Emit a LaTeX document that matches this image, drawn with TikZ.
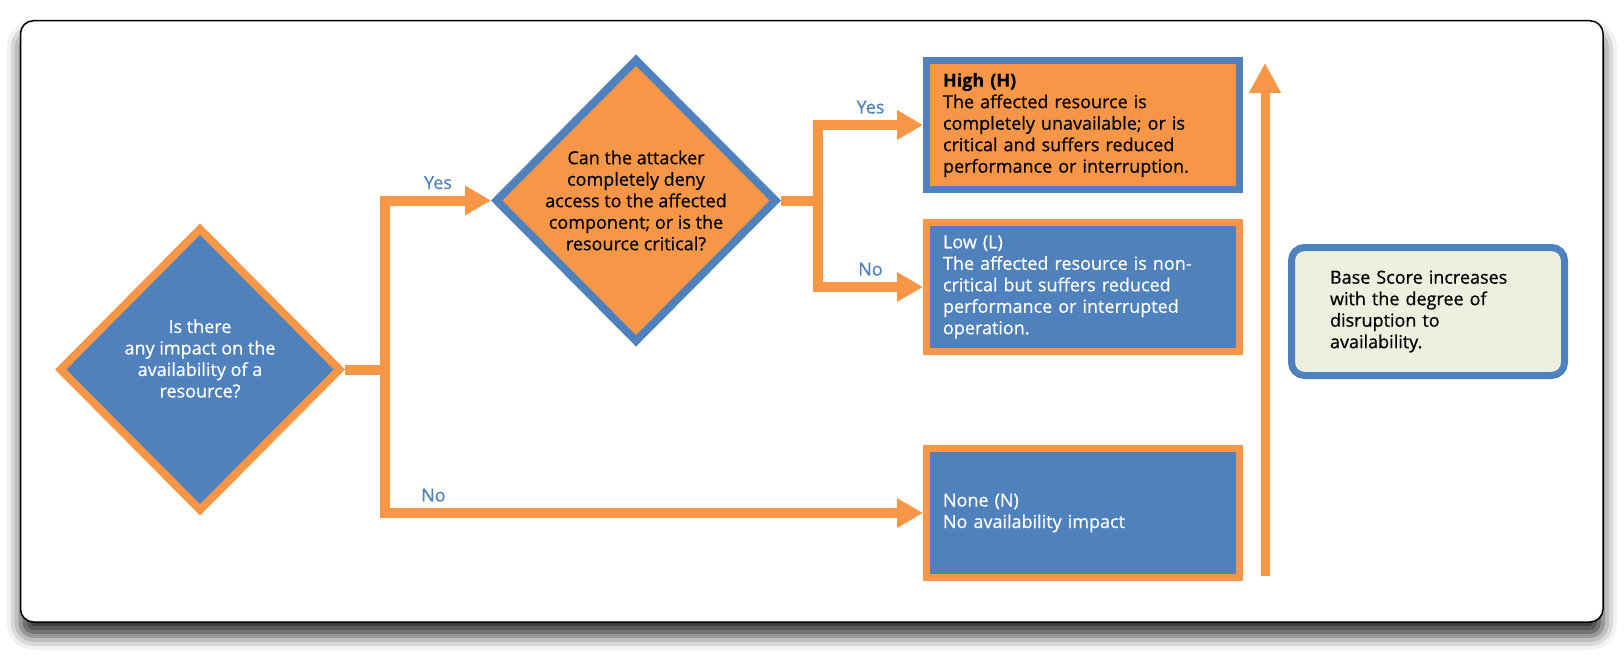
\documentclass[tikz,border=0pt]{standalone}
\usepackage{fontspec}
\setmainfont{Open Sans}[FakeBold=0.5]
\usetikzlibrary{arrows.meta, positioning, shapes.geometric, shadows.blur}

\definecolor{impactorange}{HTML}{F79646}
\definecolor{impactblue}{HTML}{4F81BD}
\definecolor{notegreen}{HTML}{EBF1DE}

\begin{document}
\begin{tikzpicture}[x=1pt, y=-1pt,
                font=\fontsize{18}{21.5}\selectfont,
                frame/.style={draw=black, line width=1.5pt, fill=white, rounded corners=13pt,
                             blur shadow={shadow xshift=0pt, shadow yshift=-14pt, shadow blur radius=14pt, shadow opacity=80}},
                decision/.style={diamond, aspect=1, line width=8pt, minimum width=282pt,
                                minimum height=284pt, inner sep=0pt},
                question/.style={align=center, font=\fontsize{18}{21.5}\selectfont},
                rating/.style={rectangle, line width=7pt, minimum width=313pt, minimum height=129pt,
                              text width=280pt, inner xsep=16.5pt, align=left},
                note/.style={draw=impactblue, fill=notegreen, line width=7pt, rounded corners=13pt,
                            minimum width=273pt, minimum height=128pt, text width=196pt,
                            inner xsep=38.5pt, align=left},
                flow/.style={impactorange, line width=10pt, -{Triangle[length=26pt, width=28pt]}},
                answer/.style={text=impactblue, above=3pt}]

                \useasboundingbox (0,0) rectangle (1624,658);

                % White panel with shadow behind everything
                \draw[frame] (20.5,20.7) rectangle (1603,622);

                % Two questions as diamonds
                \node[decision, draw=impactorange, fill=impactblue,
                      label={[question, text=white, yshift=11pt]center:{Is there\\any impact on the\\availability of a\\resource?}}]
                    (impact) at (200,369.5) {};
                \node[decision, draw=impactblue, fill=impactorange,
                      label={[question, text=black]center:{Can the attacker\\completely deny\\access to the affected\\component; or is the\\resource critical?}}]
                    (deny) at (636,200.5) {};

                % Ratings stacked on the right
                \node[rating, draw=impactblue, fill=impactorange] (high) at (1083,125)
                    {\textbf{High (H)}\\The affected resource is\\completely unavailable; or is\\critical and suffers reduced\\performance or interruption.};
                \node[rating, draw=impactorange, fill=impactblue, text=white, below=26pt of high] (low)
                    {Low (L)\\The affected resource is non-\\critical but suffers reduced\\performance or interrupted\\operation.};
                \node[rating, draw=impactorange, fill=impactblue, text=white, below=90pt of low] (none)
                    {None (N)\\No availability impact};

                % Note on the scale
                \node[note] (scorenote) at (1428,311.5)
                    {Base Score increases\\with the degree of\\disruption to\\availability.};

                % Branch points and ends of the scale arrow
                \coordinate (fork1) at (385,369.5);
                \coordinate (fork2) at (818,200.5);
                \coordinate (scalelow) at (1265,576);
                \coordinate (scaletop) at (1265,63);

                % Answers to the first question
                \draw[flow] (impact.east) -- (fork1) |- (deny.west) node[answer, pos=0.75] {Yes};
                \draw[flow] (fork1) |- (none.west) node[answer, pos=0.545] {No};

                % Answers to the second question
                \draw[flow] (deny.east) -- (fork2) |- (high.west) node[answer, pos=0.75] {Yes};
                \draw[flow] (fork2) |- (low.west) node[answer, pos=0.75] {No};

                % Severity increases upwards
                \draw[flow, line width=9pt, -{Triangle[length=30pt, width=30pt]}] (scalelow) -- (scaletop);
            \end{tikzpicture}
\end{document}
